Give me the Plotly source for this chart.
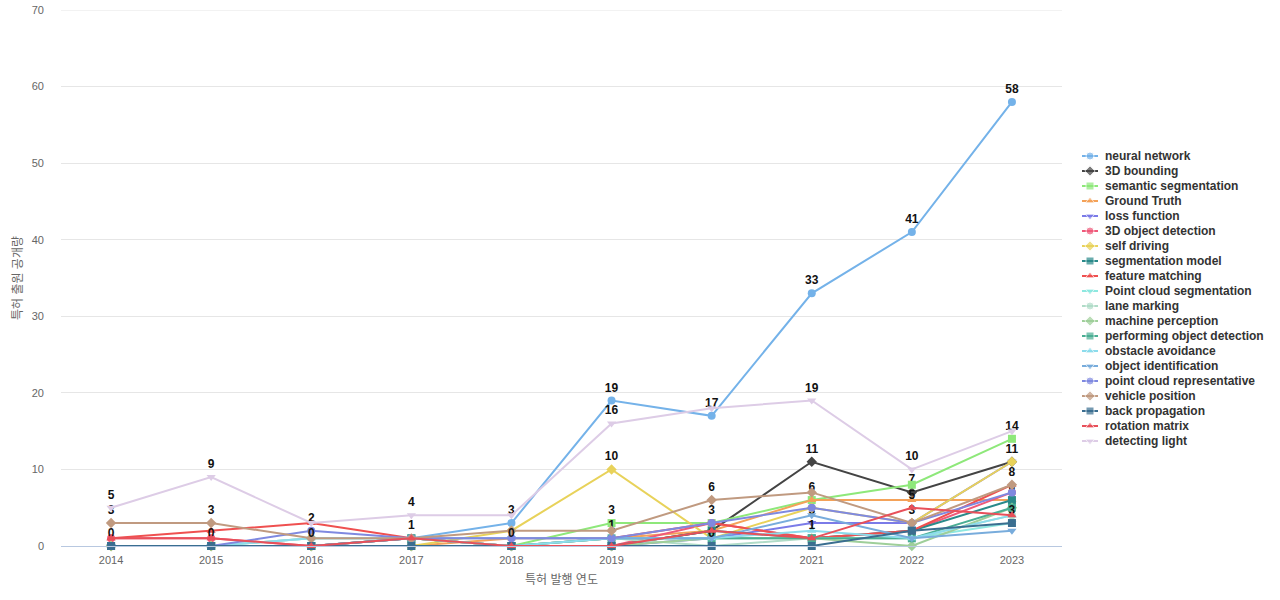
import plotly.graph_objects as go

years = [2014, 2015, 2016, 2017, 2018, 2019, 2020, 2021, 2022, 2023]

series_names = [
    "neural network", "3D bounding", "semantic segmentation", "Ground Truth",
    "loss function", "3D object detection", "self driving", "segmentation model",
    "feature matching", "Point cloud segmentation", "lane marking",
    "machine perception", "performing object detection", "obstacle avoidance",
    "object identification", "point cloud representative", "vehicle position",
    "back propagation", "rotation matrix", "detecting light",
]

neural_network = [0, 0, 0, 1, 3, 19, 17, 33, 41, 58]
bounding_3d = [0, 0, 0, 0, 0, 0, 2, 11, 7, 11]
semantic_segmentation = [0, 0, 0, 0, 0, 3, 3, 6, 8, 14]
ground_truth = [0, 0, 0, 0, 1, 1, 2, 6, 6, 6]
loss_function = [0, 0, 0, 0, 0, 0, 1, 3, 3, 11]
object_detection_3d = [1, 1, 0, 1, 0, 0, 3, 1, 2, 7]
self_driving = [0, 0, 0, 0, 2, 10, 1, 5, 3, 11]
segmentation_model = [0, 0, 0, 1, 0, 0, 2, 1, 2, 6]
feature_matching = [1, 2, 3, 1, 0, 1, 3, 1, 2, 8]
point_cloud_segmentation = [0, 0, 1, 1, 0, 1, 1, 1, 1, 3]
lane_marking = [0, 0, 1, 1, 0, 1, 0, 1, 1, 4]
machine_perception = [0, 0, 0, 0, 0, 0, 1, 1, 0, 5]
performing_object_detection = [0, 0, 0, 1, 0, 1, 1, 1, 1, 5]
obstacle_avoidance = [0, 0, 1, 1, 0, 1, 1, 2, 1, 4]
object_identification = [0, 0, 0, 1, 1, 1, 1, 4, 1, 2]
point_cloud_representative = [0, 0, 2, 1, 1, 1, 3, 5, 3, 7]
vehicle_position = [3, 3, 1, 1, 2, 2, 6, 7, 3, 8]
back_propagation = [0, 0, 0, 0, 0, 0, 0, 0, 2, 3]
rotation_matrix = [1, 1, 0, 1, 0, 0, 2, 1, 5, 4]
detecting_light = [5, 9, 3, 4, 4, 16, 18, 19, 10, 15]

series_values = [
    neural_network, bounding_3d, semantic_segmentation, ground_truth,
    loss_function, object_detection_3d, self_driving, segmentation_model,
    feature_matching, point_cloud_segmentation, lane_marking,
    machine_perception, performing_object_detection, obstacle_avoidance,
    object_identification, point_cloud_representative, vehicle_position,
    back_propagation, rotation_matrix, detecting_light,
]

# which points carry a visible value label (others hidden by overlap)
label_points = {
    "neural network": [2018, 2019, 2020, 2021, 2022, 2023],
    "detecting light": [2014, 2015, 2017, 2019, 2021, 2022],
    "vehicle position": [2014, 2015, 2020, 2022, 2023],
    "back propagation": [2014, 2015, 2016, 2018, 2020, 2023],
    "point cloud representative": [2016],
    "segmentation model": [2017, 2023],
    "self driving": [2019],
    "semantic segmentation": [2019, 2021, 2023],
    "object identification": [2019],
    "3D object detection": [2020],
    "3D bounding": [2021, 2022, 2023],
    "loss function": [2021],
    "rotation matrix": [2021, 2022],
    "machine perception": [2022],
}

y_ticks = [0, 10, 20, 30, 40, 50, 60, 70]

colors = [
    "#74b2e9", "#444444", "#8ee87a", "#f4a259", "#7b7be8", "#ef5a7a",
    "#e8d25a", "#2a8a8a", "#ef5050", "#8ee8e0", "#b0dcc8", "#9fcf9a",
    "#4bae94", "#8cdcec", "#78acdc", "#7f89e0", "#c09a80", "#3a6e90",
    "#e8505a", "#ddcce6",
]
symbols = ["circle", "diamond", "square", "triangle-up", "triangle-down"] * 4

W, H = 1280, 600
ML, MR, MT, MB = 61, 0, 10, 600 - 546
PLOT_RIGHT = 1062
paper_w = W - ML - MR
main_dom = (PLOT_RIGHT - ML) / paper_w
leg_left = 1075
leg_dom_start = (leg_left - ML) / paper_w

fig = go.Figure()

# top gridline (Plotly skips a gridline sitting exactly on the plot edge)
fig.add_shape(type="line", xref="x domain", yref="y", x0=0, x1=1,
              y0=y_ticks[-1], y1=y_ticks[-1], line=dict(color="#e6e6e6", width=1),
              layer="below")

for name, vals, col, sym in zip(series_names, series_values, colors, symbols):
    lab = label_points.get(name, [])
    texts = [str(v) if y in lab else "" for y, v in zip(years, vals)]
    fig.add_trace(go.Scatter(
        x=[str(y) for y in years], y=vals, name=name,
        mode="lines+markers+text",
        line=dict(color=col, width=2),
        marker=dict(color=col, symbol=sym, size=8),
        text=texts, textposition="top center",
        textfont=dict(family="Liberation Sans, Arial", size=12, color="#111111", weight="bold"),
        cliponaxis=False, showlegend=False,
    ))

# custom legend (compact spacing), drawn on a hidden overlay axis in pixel units
leg_y0, leg_step = 156, 15
lx0, lx1, ltx = 1082, 1098, 1103
for i, (name, col, sym) in enumerate(zip(series_names, colors, symbols)):
    yc = leg_y0 + i * leg_step
    fig.add_trace(go.Scatter(
        x=[lx0, (lx0 + lx1) / 2, lx1], y=[yc, yc, yc], xaxis="x2", yaxis="y2",
        mode="lines+markers", line=dict(color=col, width=2),
        marker=dict(color=col, symbol=sym, size=[0, 8, 0]),
        showlegend=False, hoverinfo="skip", cliponaxis=False,
    ))
    fig.add_annotation(
        x=ltx, y=yc, xref="x2", yref="y2", text=name, showarrow=False,
        xanchor="left", yanchor="middle",
        font=dict(family="Liberation Sans, Arial", size=12, color="#333333", weight="bold"),
    )

fig.update_layout(
    width=W, height=H,
    margin=dict(l=ML, r=MR, t=MT, b=MB, autoexpand=False),
    paper_bgcolor="white", plot_bgcolor="white",
    font=dict(family="Liberation Sans, Arial, Noto Sans CJK KR", color="#666666", size=11),
    xaxis=dict(
        domain=[0, main_dom], type="category", range=[-0.5, 9.5],
        title=dict(text="특허 발행 연도", font=dict(size=12, color="#666666"), standoff=10),
        showgrid=False, showline=True, linecolor="#b8c8e0", linewidth=1,
        ticks="", tickfont=dict(size=11, color="#666666"), ticklabelstandoff=4,
        automargin=False,
    ),
    yaxis=dict(
        range=[0, 70], tickvals=y_ticks,
        title=dict(text="특허 출원 공개량", font=dict(size=12, color="#666666"), standoff=6),
        showgrid=True, gridcolor="#e6e6e6", zeroline=False, showline=False,
        tickfont=dict(size=11, color="#666666"), ticklabelstandoff=16,
        ticklabeloverflow="allow", automargin=False,
    ),
    xaxis2=dict(domain=[leg_dom_start, 1], range=[leg_left, W], visible=False, fixedrange=True),
    yaxis2=dict(domain=[0, 1], range=[H - MB, MT], visible=False, fixedrange=True),
    showlegend=False,
)

fig.write_html(
    "out.html",
    config={"displayModeBar": False},
    post_script="document.body.style.margin='0';document.body.style.overflow='hidden';",
)
